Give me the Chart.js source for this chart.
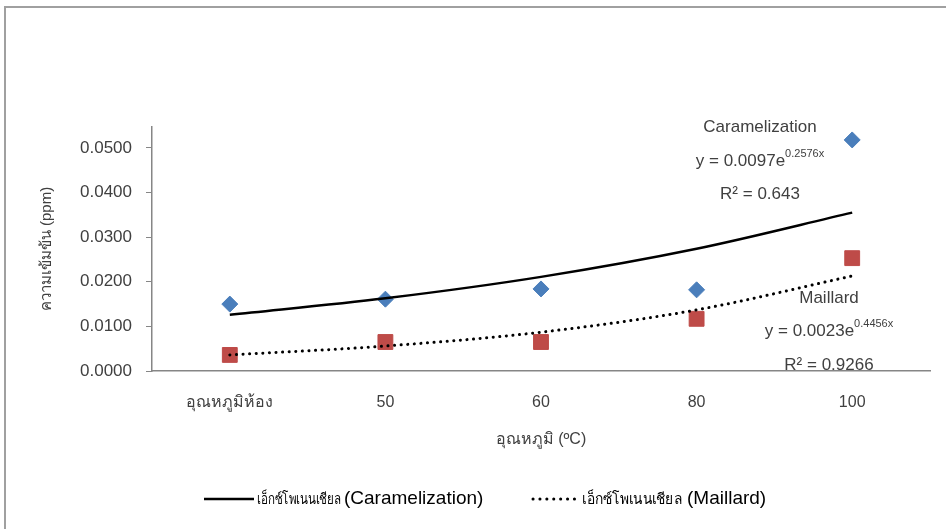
<!DOCTYPE html>
<html>
<head>
<meta charset="utf-8">
<script src="https://cdn.jsdelivr.net/npm/chart.js@4"></script>
<style>
html,body{margin:0;padding:0;background:#fff;}
#wrap{position:relative;width:946px;height:529px;}
</style>
</head>
<body>
<div id="wrap"><canvas id="c" width="946" height="529"></canvas></div>
<script>
const categories = ['อุณหภูมิห้อง', '50', '60', '80', '100'];
const caramelization = [0.0150, 0.0161, 0.0184, 0.0182, 0.0518];
const maillard = [0.0036, 0.0065, 0.0065, 0.0117, 0.0253];
const caramelTrend = [0.0126, 0.0163, 0.0211, 0.0274, 0.0355];
const maillardTrend = [0.0036, 0.0056, 0.0087, 0.0137, 0.0213];
const yTicks = [0, 0.01, 0.02, 0.03, 0.04, 0.05];
const yAxisMax = 0.0547;
const yTitle = 'ความเข้มข้น (ppm)';
const xTitle = 'อุณหภูมิ (ºC)';
const legendThai = 'เอ็กซ์โพเนนเชียล';
const legendSeries = ['(Caramelization)', '(Maillard)'];
const caramelNote = ['Caramelization', 'y = 0.0097e', '0.2576x', 'R² = 0.643'];
const maillardNote = ['Maillard', 'y = 0.0023e', '0.4456x', 'R² = 0.9266'];

const AX = '#868686';
const TXT = '#404040';
const FONT = '"Liberation Sans", Arial, sans-serif';

const extras = {
  id: 'extras',
  afterDraw(chart) {
    const ctx = chart.ctx;
    ctx.save();
    // outer border (top & left)
    ctx.strokeStyle = '#a0a0a0';
    ctx.lineWidth = 2;
    ctx.beginPath();
    ctx.moveTo(5, 529);
    ctx.lineTo(5, 7);
    ctx.lineTo(946, 7);
    ctx.stroke();

    // annotations
    function note(lines, cx, y1, y2, y3) {
      ctx.fillStyle = TXT;
      ctx.textBaseline = 'middle';
      ctx.font = '17px ' + FONT;
      ctx.textAlign = 'center';
      ctx.fillText(lines[0], cx, y1);
      ctx.fillText(lines[3], cx, y3);
      const w1 = ctx.measureText(lines[1]).width;
      ctx.font = '11px ' + FONT;
      const w2 = ctx.measureText(lines[2]).width;
      const sx = cx - (w1 + w2) / 2;
      ctx.textAlign = 'left';
      ctx.font = '17px ' + FONT;
      ctx.fillText(lines[1], sx, y2);
      ctx.font = '11px ' + FONT;
      ctx.fillText(lines[2], sx + w1, y2 - 7);
    }
    note(caramelNote, 760, 127, 161, 194);
    note(maillardNote, 829, 298, 331, 365);

    // legend
    const ly = 499;
    ctx.strokeStyle = '#000';
    ctx.lineWidth = 2.5;
    ctx.beginPath();
    ctx.moveTo(204, ly);
    ctx.lineTo(254, ly);
    ctx.stroke();
    ctx.lineWidth = 3;
    ctx.lineCap = 'round';
    ctx.setLineDash([0.1, 6.8]);
    ctx.beginPath();
    ctx.moveTo(533, ly);
    ctx.lineTo(577, ly);
    ctx.stroke();
    ctx.setLineDash([]);
    ctx.fillStyle = '#000';
    ctx.textAlign = 'left';
    ctx.textBaseline = 'middle';
    ctx.font = '15px ' + FONT;
    ctx.fillText(legendThai, 257, ly + 1, 84);
    ctx.fillText(legendThai, 582, ly + 1, 100);
    ctx.font = '19px ' + FONT;
    ctx.fillText(legendSeries[0], 344, ly);
    ctx.fillText(legendSeries[1], 687, ly);
    ctx.restore();
  }
};

new Chart(document.getElementById('c'), {
  type: 'line',
  data: {
    labels: categories,
    datasets: [
      {
        label: legendSeries[0],
        data: caramelTrend,
        borderColor: '#000',
        borderWidth: 2.5,
        pointRadius: 0,
        fill: false,
        cubicInterpolationMode: 'monotone',
        order: 3
      },
      {
        label: legendSeries[1],
        data: maillardTrend,
        borderColor: '#000',
        borderWidth: 3,
        borderDash: [0.1, 6.5],
        borderCapStyle: 'round',
        pointRadius: 0,
        fill: false,
        cubicInterpolationMode: 'monotone',
        order: 2
      },
      {
        label: 'Caramelization',
        data: caramelization,
        showLine: false,
        pointStyle: 'rectRot',
        pointRadius: 8,
        pointBackgroundColor: '#4a7ebb',
        pointBorderColor: '#4a7ebb',
        pointBorderWidth: 1,
        order: 4
      },
      {
        label: 'Maillard',
        data: maillard,
        showLine: false,
        pointStyle: 'rect',
        pointRadius: 10.5,
        pointBackgroundColor: '#be4b48',
        pointBorderColor: '#be4b48',
        pointBorderWidth: 1,
        order: 5
      }
    ]
  },
  options: {
    responsive: false,
    animation: false,
    layout: { padding: { top: 127, right: 16, left: 0, bottom: 0 } },
    plugins: { legend: { display: false }, tooltip: { enabled: false } },
    scales: {
      x: {
        type: 'category',
        offset: true,
        grid: { display: false, drawTicks: false },
        border: { display: true, color: AX, width: 1.5 },
        ticks: { color: TXT, font: { family: '"Liberation Sans Narrow", "Liberation Sans", Arial, sans-serif', size: 16 }, padding: 22, maxRotation: 0 },
        title: { display: true, text: xTitle, color: TXT, font: { family: FONT, size: 16 }, padding: { top: 80, bottom: 80 } },
        afterFit(scale) { scale.height = 158; }
      },
      y: {
        min: 0,
        max: yAxisMax,
        grid: { drawOnChartArea: false, drawTicks: true, tickLength: 6, color: AX },
        border: { display: true, color: AX, width: 1.5 },
        ticks: { color: TXT, font: { family: FONT, size: 17 }, padding: 14, callback: v => Number(v).toFixed(4) },
        afterBuildTicks(scale) { scale.ticks = yTicks.map(v => ({ value: v })); },
        title: { display: true, text: yTitle, color: TXT, font: { family: FONT, size: 15 }, padding: { top: 38, bottom: 38 } },
        afterFit(scale) { scale.width = 152; }
      }
    }
  },
  plugins: [extras]
});
</script>
</body>
</html>
